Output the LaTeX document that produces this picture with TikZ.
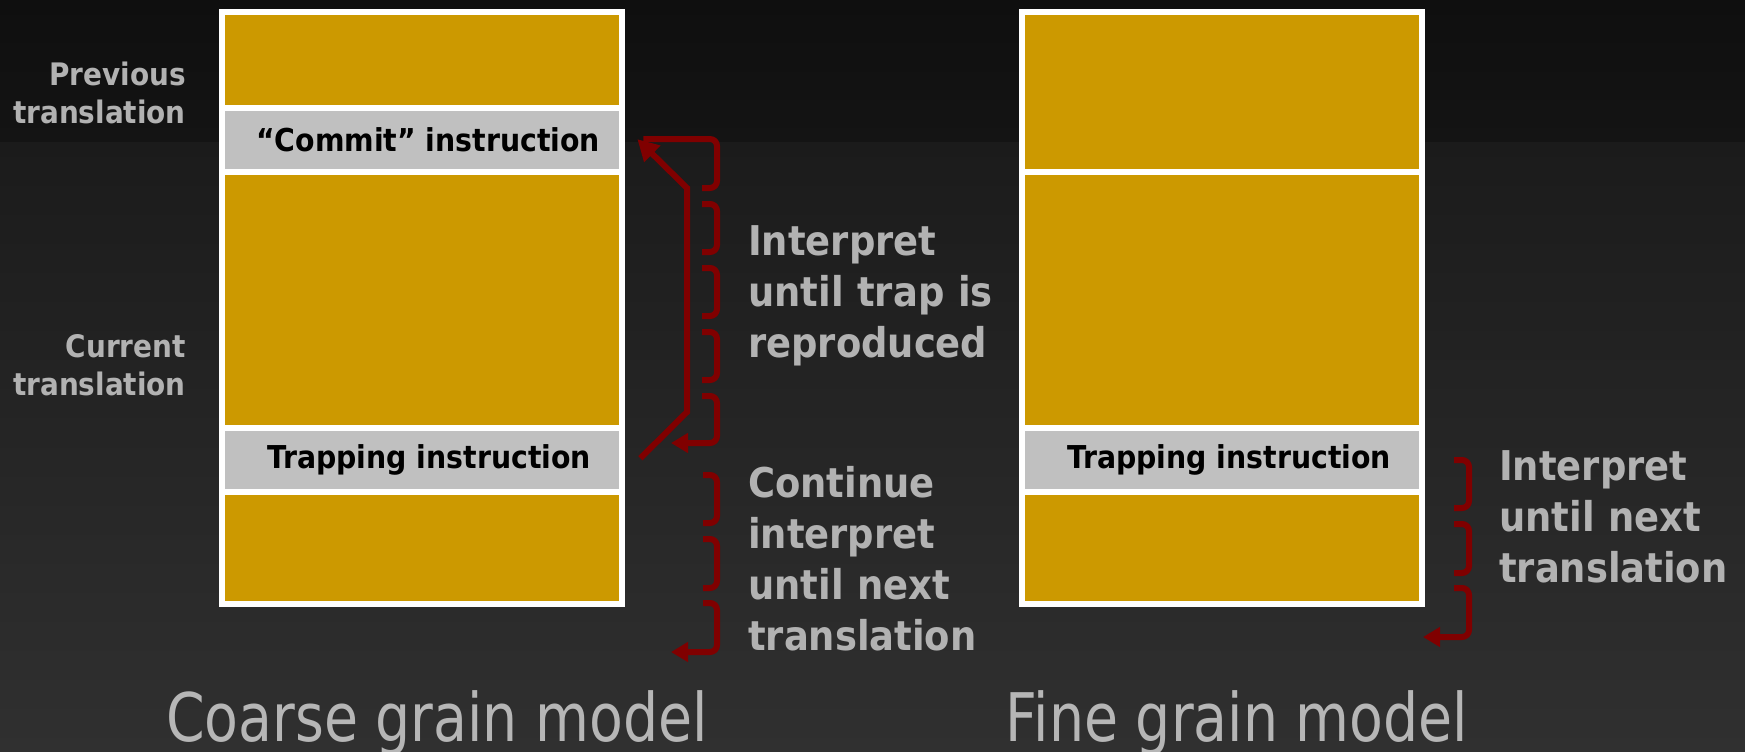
\documentclass[tikz,border=0pt]{standalone}
\usepackage{fontspec}
\usepackage{graphicx}
\usetikzlibrary{arrows.meta,calc}
\setmainfont{DejaVu Sans}
\newfontfamily\labelfont{DejaVu Sans Condensed Bold}

\definecolor{gold}{HTML}{CC9900}
\definecolor{rowgray}{HTML}{C0C0C0}
\definecolor{arrowred}{HTML}{800000}
\definecolor{labelgray}{HTML}{B2B2B2}
\definecolor{titlegray}{HTML}{B6B6B6}
\definecolor{bandtop}{HTML}{0F0F0F}
\definecolor{bandbottom}{HTML}{141414}
\definecolor{bgupper}{HTML}{1B1B1B}
\definecolor{bglower}{HTML}{303030}

\begin{document}
\begin{tikzpicture}[x=1pt,y=-1pt,
  frame/.style={fill=white, draw=none, anchor=north west, inner sep=0pt,
    minimum width=406pt, minimum height=598pt},
  block/.style={fill=gold, draw=none, anchor=north west, inner sep=0pt,
    minimum width=394pt},
  instr/.style={fill=rowgray, draw=none, anchor=north west, inner sep=0pt,
    minimum width=394pt, minimum height=58pt, text=black,
    font=\labelfont\fontsize{31.5}{38}\selectfont},
  sidelabel/.style={anchor=base east, align=right, text width=220pt,
    inner sep=0pt, text=labelgray, font=\labelfont\fontsize{31}{38}\selectfont},
  note/.style={anchor=base west, align=left, text width=320pt,
    inner sep=0pt, text=labelgray, font=\labelfont\fontsize{41}{51}\selectfont},
  title/.style={anchor=base, inner sep=0pt, text=titlegray,
    font=\fontsize{67}{80}\selectfont},
  flow/.style={draw=arrowred, line width=6pt},
  bracket/.style={flow, rounded corners=7pt},
  tip/.style={-{Triangle[length=17pt,width=19pt]}},
]
\useasboundingbox (0,0) rectangle (1745,752);

% backdrop: dark band at the top, lighter gradient below
\shade[top color=bandtop, bottom color=bandbottom] (0,0) rectangle (1745,142);
\shade[top color=bgupper, bottom color=bglower] (0,142) rectangle (1745,752);

% coarse grain column
\node[frame] (frameL) at (219,9) {};
\node[block, minimum height=90pt]  (prevL) at (225,15) {};
\node[instr] (commitL) at (225,111) {\hspace*{12pt}“Commit” instruction};
\node[block, minimum height=250pt] (curL)  at (225,175) {};
\node[instr] (trapL)   at (225,431) {\hspace*{14pt}Trapping instruction};
\node[block, minimum height=106pt] (nextL) at (225,495) {};

% fine grain column
\node[frame] (frameR) at (1019,9) {};
\node[block, minimum height=154pt] (prevR) at (1025,15) {};
\node[block, minimum height=250pt] (curR)  at (1025,175) {};
\node[instr] (trapR)   at (1025,431) {\hspace*{14pt}Trapping instruction};
\node[block, minimum height=106pt] (nextR) at (1025,495) {};

% translation labels
\node[sidelabel] (prevLabel) at (186,85)  {Previous\\translation};
\node[sidelabel] (curLabel)  at (186,357) {Current\\translation};

% rollback from the trapping instruction to the commit point
\coordinate (rollStart) at ($(trapL.east)+(21,-2)$);
\coordinate (rollKneeLow)  at (687,412);
\coordinate (rollKneeHigh) at (687,188);
\coordinate (rollEnd) at ($(commitL.east)+(18,-1)$);
\draw[flow, -{Triangle[length=21pt,width=22pt]}]
  (rollStart) -- (rollKneeLow) -- (rollKneeHigh) -- (rollEnd);

% step-by-step interpretation, coarse model (upper run)
\draw[bracket] (rollEnd) ++(6,0) -- (717,139) -- (717,188) -- (702,188);
\foreach \t/\b in {204/252, 268/316, 332/380}
  \draw[bracket] (702,\t) -- (717,\t) -- (717,\b) -- (702,\b);
\coordinate (interpEnd) at (671,443);
\draw[bracket, tip] (702,396) -- (717,396) -- (717,443) -- (interpEnd);

% coarse model (continuation run)
\foreach \t/\b in {475/523, 539/588}
  \draw[bracket] (703,\t) -- (717,\t) -- (717,\b) -- (703,\b);
\coordinate (contEnd) at (671,652);
\draw[bracket, tip] (703,603) -- (717,603) -- (717,652) -- (contEnd);

% fine model run
\foreach \t/\b in {460/508, 524/573}
  \draw[bracket] (1454,\t) -- (1469,\t) -- (1469,\b) -- (1454,\b);
\coordinate (fineEnd) at (1423,637);
\draw[bracket, tip] (1454,588) -- (1469,588) -- (1469,637) -- (fineEnd);

% explanations
\node[note] (noteTrap) at (748,255)  {Interpret\\until trap is\\reproduced};
\node[note] (noteCont) at (748,497)  {Continue\\interpret\\until next\\translation};
\node[note] (noteFine) at (1499,480) {Interpret\\until next\\translation};

% captions
\node[title] (coarseTitle) at (437,741) {\scalebox{0.826}[1]{Coarse grain model}};
\node[title] (fineTitle)   at (1237,741) {\scalebox{0.826}[1]{Fine grain model}};
\end{tikzpicture}
\end{document}
